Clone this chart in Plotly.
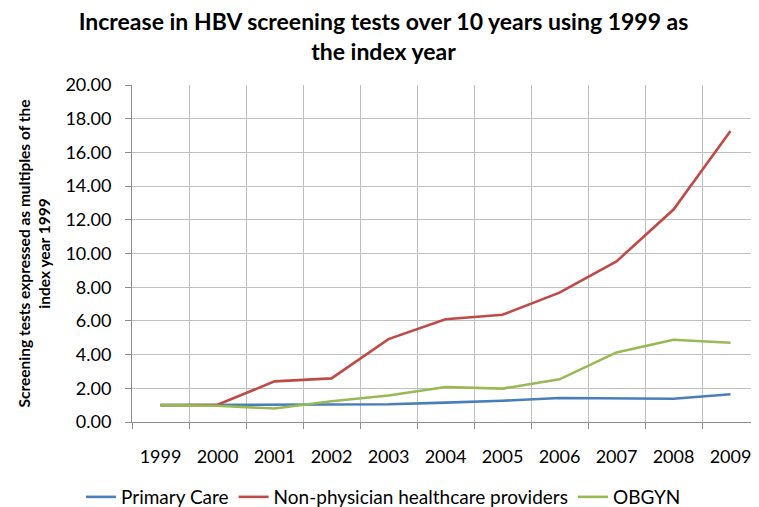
import plotly.graph_objects as go

years = ["1999", "2000", "2001", "2002", "2003", "2004", "2005", "2006", "2007", "2008", "2009"]
primary_care = [1.00, 1.02, 1.05, 1.04, 1.05, 1.15, 1.26, 1.42, 1.40, 1.38, 1.65]
non_physician = [1.00, 1.02, 2.41, 2.59, 4.92, 6.10, 6.36, 7.68, 9.53, 12.61, 17.27]
obgyn = [1.00, 0.96, 0.80, 1.23, 1.57, 2.08, 1.98, 2.53, 4.13, 4.88, 4.70]

series = [
    ("Primary Care", primary_care, "#4A7EBB"),
    ("Non-physician healthcare providers", non_physician, "#BE4B48"),
    ("OBGYN", obgyn, "#98B954"),
]

xpos = list(range(len(years)))
boundaries = [i - 0.5 for i in range(len(years) + 1)]

fig = go.Figure()
for name, vals, color in series:
    fig.add_trace(go.Scatter(x=xpos, y=vals, mode="lines", name=name,
                             line=dict(color=color, width=2.6)))

font_family = "Lato"
grid = "#BFBFBF"
axis_col = "#8C8C8C"

# page body has an 8px margin, so the figure is 8px smaller and shifted
W, H = 751, 499

fig.update_layout(
    width=W, height=H,
    margin=dict(l=124, r=0, t=76.5, b=84.5),
    paper_bgcolor="white", plot_bgcolor="white",
    font=dict(family=font_family, size=18, color="black"),
    title=dict(
        text="<b>Increase in HBV screening tests over 10 years using 1999 as<br>the index year</b>",
        x=0.5, xref="container", xanchor="center",
        y=0.955, yref="container", yanchor="top",
        font=dict(family=font_family, size=23, color="black"),
    ),
    showlegend=True,
    legend=dict(orientation="h", xref="container", x=0.5, xanchor="center",
                yref="container", y=0.02, yanchor="middle",
                font=dict(size=19), itemwidth=30, bgcolor="rgba(0,0,0,0)"),
    xaxis=dict(
        range=[-0.5, len(years) - 0.5],
        tickmode="array", tickvals=xpos, ticktext=years,
        showgrid=False, ticks="", zeroline=False,
        showline=True, linecolor=axis_col, linewidth=1,
        ticklabelstandoff=18,
        minor=dict(tickmode="array", tickvals=boundaries, showgrid=True,
                   gridcolor=grid, gridwidth=1, ticks="outside", ticklen=6,
                   tickcolor=axis_col),
        fixedrange=True,
    ),
    yaxis=dict(
        range=[0, 20], dtick=2, tick0=0, tickformat=".2f",
        showgrid=True, gridcolor=grid, gridwidth=1,
        zeroline=False, showline=True, linecolor=axis_col, linewidth=1,
        ticks="outside", ticklen=6, tickcolor=axis_col,
        ticklabelstandoff=10,
        title=dict(text="<b>Screening tests expressed as multiples of the<br>index year 1999</b>",
                   font=dict(family=font_family, size=15.5, color="black"),
                   standoff=10),
        fixedrange=True,
    ),
)

fig.write_html("out.html")
